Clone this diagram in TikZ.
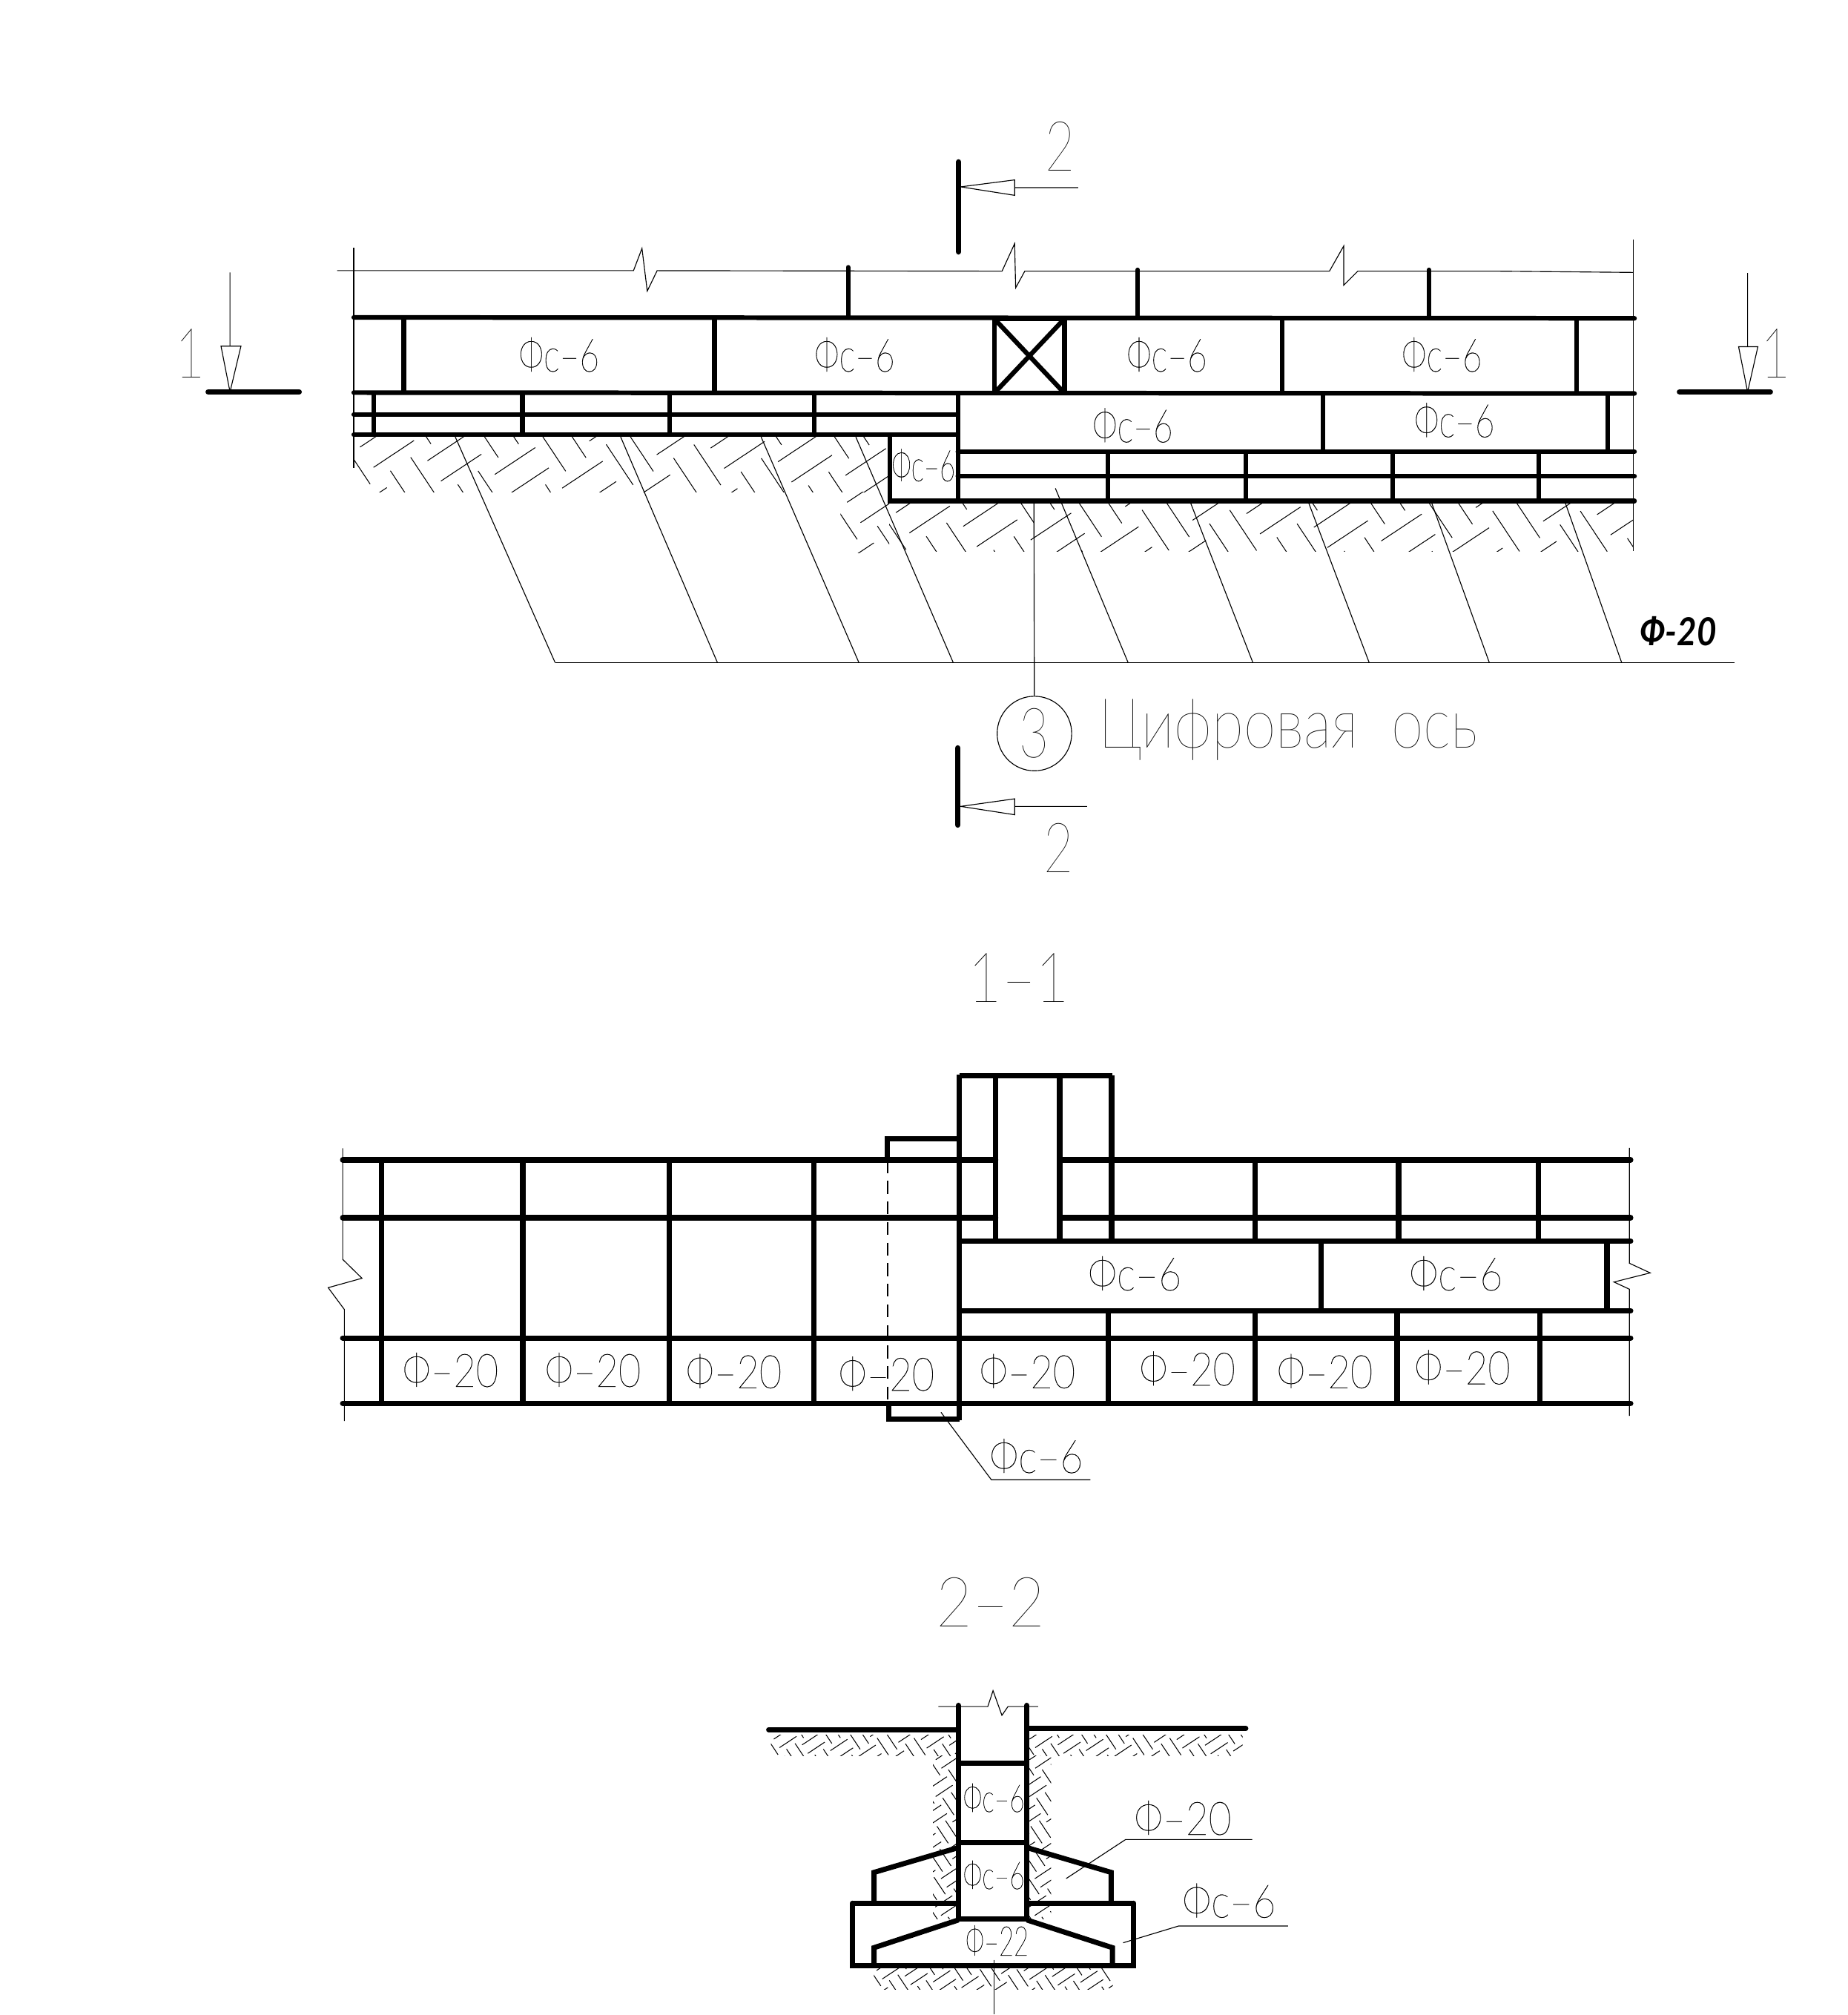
\documentclass[tikz,border=0pt]{standalone}
\usepackage{fontspec}
\usepackage{graphicx}
\setmainfont{Lato Hairline}
\newfontfamily\cadsm{Lato Hairline}[FakeBold=0.4]
\newfontfamily\cadb{Lato}
\newcommand{\fs}[3][.74]{{\ifdim#2pt<20pt\cadsm\fi\fontsize{#2pt}{#2pt}\selectfont\scalebox{#1}[1]{#3}}}
\tikzset{
 thk/.style={line width=1.8pt,line cap=round,line join=miter},
 thn/.style={line width=.33pt},
 lbl/.style={inner sep=0pt,outer sep=0pt,text=black},
 htc/.style={line width=.3pt}
}
% basket-weave earth hatching, clipped to a rectangle: x1 y1 x2 y2 scale
\newcommand{\hatchrect}[5]{%
 \begin{scope}
 \clip (#1,#2) rectangle (#3,#4);
 \pgfmathtruncatemacro{\mA}{-((#4-(#2))/(38*#5))-2}
 \pgfmathtruncatemacro{\mB}{(#3-(#1))*.83/(38*#5)+2}
 \pgfmathtruncatemacro{\nB}{((#3-(#1))*.55+(#4-(#2))*.83)/(38*#5)+2}
 \begin{scope}[shift={(#1,#2)},scale=#5]
 \foreach \m in {\mA,...,\mB}{\foreach \n in {-2,...,\nB}{
  \pgfmathsetmacro{\ox}{(\m*.83+\n*.55)*38}
  \pgfmathsetmacro{\oy}{(-\m*.55+\n*.83)*38}
  \pgfmathtruncatemacro{\odd}{mod(abs(\m+\n),2)}
  \ifnum\odd=0
   \draw[htc] (\ox+5.2,\oy+7.9)--+(31.5,-20.9) (\ox+15.7,\oy+23.7)--+(31.5,-20.9);
  \else
   \draw[htc] (\ox+7.9,\oy-5.2)--+(20.9,31.5) (\ox+23.7,\oy-15.7)--+(20.9,31.5);
  \fi
 }}
 \end{scope}
 \end{scope}}
\begin{document}
\begin{tikzpicture}[x=.5pt,y=-.5pt]
\useasboundingbox (0,0) rectangle (1438,1568);
% ===== plan =====
\hatchrect{275}{340}{692}{383}{1}
\hatchrect{654}{383}{692}{430}{1}
\hatchrect{692}{391}{1271}{429}{1}
\begin{scope}[thn]
\draw (275.3,193) -- (275.3,364);
\draw (1271,186.6) -- (1271,429);
\draw (262.4,210.6) -- (493,210.6) -- (499.6,193.3) -- (503.7,226.5) -- (511.4,210.6) -- (779.8,211) -- (789.6,189.6) -- (790.4,224) -- (797.5,211) -- (1034.6,211) -- (1045.7,191.4) -- (1045.7,222) -- (1056.7,211) -- (1164,211) -- (1271,212);
\draw (432,515.6) -- (1350,515.6);
\draw (354.3,340) -- (432,515.6);
\draw (483,340) -- (558.3,515.6);
\draw (592.3,340) -- (668.4,515.6);
\draw (666,340) -- (741.8,515.6);
\draw (821.3,380) -- (877.9,515.6);
\draw (926.4,391) -- (975,515.6);
\draw (1018.3,391) -- (1065.5,515.6);
\draw (1114,391) -- (1159,515.6);
\draw (1218,391) -- (1262,515.6);
\node[draw,circle,minimum size=29pt,inner sep=0pt] (c3) at (805,570.8) {};
\coordinate (c3t) at (804.6,391);
\draw (c3t) -- (c3);
% section arrows
\draw (179,212) -- (179,269.4) (172,269.4) -- (187.5,269.4) -- (179,305) -- cycle;
\draw (1360,212.4) -- (1360,269.8) (1353,269.8) -- (1368,269.8) -- (1360,305) -- cycle;
\draw (839,146) -- (789.6,146) (789.6,140) -- (789.6,152) -- (747.6,145.4) -- cycle;
\draw (846,627.5) -- (789.6,627.5) (789.6,621.6) -- (789.6,634) -- (747.6,627.5) -- cycle;
\end{scope}
\begin{scope}[thk,line width=2.1pt]
\draw (162,305) -- (232.8,305);
\draw (1307,305) -- (1377.7,305);
\draw (746,126) -- (746,196);
\draw (745.4,582) -- (745.4,642);
\end{scope}
\begin{scope}[thk]
\draw (660,208) -- (660,247) (885.4,210) -- (885.4,247) (1112,210) -- (1112,247);
\draw (275.3,247) -- (1272,247.7);
\draw (275.3,305.5) -- (1272,306.2);
\draw (275.3,322.6) -- (745,322.6);
\draw (275.3,338.4) -- (745,338.4);
\draw[line cap=butt] (314.2,247) -- (314.2,305) (556,248) -- (556,306) (998,248) -- (998,306) (1226.7,248) -- (1226.7,306);
\draw[line cap=butt] (291,305) -- (291,338) (406.5,305) -- (406.5,338) (521,305) -- (521,338) (633.6,305) -- (633.6,338);
\draw[line join=miter,line cap=butt] (773.7,248) rectangle (828.4,306);
\draw[line cap=butt] (773.7,248) -- (828.4,306) (828.4,248) -- (773.7,306);
\draw[line cap=butt] (745.4,306) -- (745.4,390);
\draw (692.3,338.4) -- (692.3,389.8) -- (1272,389.8);
\draw (745.4,351.5) -- (1272,351.5);
\draw (745.4,370.6) -- (1272,370.6);
\draw[line cap=butt] (1029.4,306) -- (1029.4,351.5) (1251,306) -- (1251,351.5);
\draw[line cap=butt] (862,351.5) -- (862,389.8) (969.7,351.5) -- (969.7,389.8) (1083.7,351.5) -- (1083.7,389.8) (1197.6,351.5) -- (1197.6,389.8);
\end{scope}
\node[lbl] (p1) at (435,276) {\fs{18}{Фс–6}};
\node[lbl] (p2) at (665,276) {\fs{18}{Фс–6}};
\node[lbl] (p3) at (908,276) {\fs{18}{Фс–6}};
\node[lbl] (p4) at (1122,276) {\fs{18}{Фс–6}};
\node[lbl] (p5) at (881.4,331) {\fs{18}{Фс–6}};
\node[lbl] (p6) at (1131.8,327) {\fs{18}{Фс–6}};
\node[lbl] (p7) at (718.6,362) {\fs[.62]{17}{Фс–6}};
\node[lbl] (n1a) at (148,275) {\fs{27}{1}};
\node[lbl] (n1b) at (1382,275) {\fs{27}{1}};
\node[lbl] (n2a) at (824.9,114) {\fs{27}{2}};
\node[lbl] (n2b) at (824,660) {\fs{27}{2}};
\node[lbl] (n3) at (805,570.8) {\fs{27}{3}};
\node[lbl,anchor=west] (axis) at (855,568) {\fs[.84]{27}{Цифровая\ \ ось}};
\node[lbl] (f20) at (1306,491.3) {\fs[.88]{15}{\cadb\bfseries\itshape Ф-20}};
% ===== 1-1 =====
\node[lbl] (t11) at (793,761) {\fs[.84]{27}{1–1}};
\begin{scope}[thn]
\draw (266.7,893.5) -- (266.7,980) -- (281.7,994.7) -- (255.4,1002) -- (268,1019) -- (268,1105.8);
\draw (1268,893.3) -- (1268,983) -- (1284.2,990.5) -- (1256,997.6) -- (1268,1003.2) -- (1268,1101.8);
\draw[dashed,dash pattern=on 5pt off 3pt] (690.8,903) -- (690.8,1092);
\coordinate (lA) at (732.3,1099);
\coordinate (lB) at (771.5,1151.5);
\coordinate (lC) at (848.5,1151.5);
\draw (lA) -- (lB) -- (lC);
\end{scope}
\begin{scope}[thk,line width=2.1pt]
\draw (266.7,902.6) -- (774.8,902.6) (824.6,902.6) -- (1269,902.6);
\draw (266.7,947.6) -- (774.8,947.6) (824.6,947.6) -- (1269,947.6);
\draw (266.7,1041.2) -- (1269,1041.2);
\draw (266.7,1092) -- (1269,1092);
\draw (746.5,965.8) -- (1269,965.8);
\draw (746.5,1020) -- (1269,1020);
\draw[line cap=butt] (297,903) -- (297,1092) (406.8,903) -- (406.8,1092) (520.9,903) -- (520.9,1092) (633.5,903) -- (633.5,1092);
\draw[line cap=butt] (746.5,836.9) -- (865.9,836.9);
\draw[line cap=butt] (746.5,836) -- (746.5,1105);
\draw[line cap=butt] (774.8,837) -- (774.8,965.4) (824.6,837) -- (824.6,965.4) (865,837) -- (865,965.4);
\draw[line cap=butt] (690.6,903) -- (690.6,886) -- (746.5,886);
\draw[line cap=butt] (691.8,1092) -- (691.8,1104.3) -- (746.5,1104.3);
\draw[line cap=butt] (976.9,903) -- (976.9,965.4) (1088.4,903) -- (1088.4,965.4) (1197,903) -- (1197,965.4);
\draw[line cap=butt] (862.6,1020.2) -- (862.6,1092) (976.9,1020.2) -- (976.9,1092) (1087.3,1020.2) -- (1087.3,1092) (1198.2,1020.2) -- (1198.2,1092);
\draw[line cap=butt] (1028,965.4) -- (1028,1020.2) (1250.6,965.4) -- (1250.6,1020.2);
\end{scope}
\node[lbl] (a1) at (350.5,1066) {\fs[.84]{18}{Ф–20}};
\node[lbl] (a2) at (461.4,1066) {\fs[.84]{18}{Ф–20}};
\node[lbl] (a3) at (571,1067) {\fs[.84]{18}{Ф–20}};
\node[lbl] (a4) at (689.8,1069) {\fs[.84]{18}{Ф–20}};
\node[lbl] (a5) at (799.5,1067) {\fs[.84]{18}{Ф–20}};
\node[lbl] (a6) at (924,1065) {\fs[.84]{18}{Ф–20}};
\node[lbl] (a7) at (1031,1067) {\fs[.84]{18}{Ф–20}};
\node[lbl] (a8) at (1138,1064) {\fs[.84]{18}{Ф–20}};
\node[lbl] (a9) at (883,991) {\fs[.86]{18}{Фс–6}};
\node[lbl] (a10) at (1133,991) {\fs[.86]{18}{Фс–6}};
\node[lbl] (a11) at (806.4,1133) {\fs[.86]{18}{Фс–6}};
% ===== 2-2 =====
\node[lbl] (t22) at (771,1247) {\fs[.9]{27}{2–2}};
\hatchrect{600}{1350}{746}{1366}{.42}
\hatchrect{799}{1350}{967}{1366}{.42}
\hatchrect{726}{1366}{746}{1493}{.42}
\hatchrect{799}{1366}{818}{1493}{.42}
\hatchrect{680}{1530}{866}{1548}{.42}
\begin{scope}[thn]
\draw (730.2,1328) -- (768.7,1328) -- (772.8,1315.6) -- (779.7,1334.8) -- (784.4,1328) -- (807.8,1328);
\coordinate (b1) at (829.7,1461.8);
\coordinate (b2) at (876,1431.4);
\coordinate (b3) at (974.5,1431.4);
\draw (b1) -- (b2) -- (b3);
\coordinate (b4) at (874,1511.8);
\coordinate (b5) at (917.3,1498.7);
\coordinate (b6) at (1002.4,1498.7);
\draw (b4) -- (b5) -- (b6);
\coordinate (b7) at (773.4,1525);
\coordinate (b8) at (773.4,1567.5);
\draw (b7) -- (b8);
\end{scope}
\begin{scope}[thk,line width=2pt]
\draw (598.2,1346) -- (745.9,1346);
\draw (799.1,1345) -- (969.5,1345);
\draw (745.9,1327) -- (745.9,1493) (799.1,1327) -- (799.1,1493);
\draw[line cap=butt] (745.9,1372.3) -- (799.1,1372.3) (745.9,1433.9) -- (799.1,1433.9) (745.9,1493) -- (799.1,1493);
\draw[line cap=butt] (745.9,1437.7) -- (680.2,1457) -- (680.2,1481);
\draw[line cap=butt] (799.1,1437.7) -- (864.7,1457) -- (864.7,1481);
\draw[line cap=butt] (663.3,1481) -- (745.9,1481) (799.1,1481) -- (882.3,1481);
\draw[line join=miter] (663.3,1481) -- (663.3,1529.5) -- (882.3,1529.5) -- (882.3,1481);
\draw[line cap=butt] (745.9,1494) -- (680.2,1515.6) -- (680.2,1529.5);
\draw[line cap=butt] (799.1,1494) -- (865.7,1515.6) -- (865.7,1529.5);
\end{scope}
\node[lbl] (s1) at (773.4,1399) {\fs[.68]{15}{Фс–6}};
\node[lbl] (s2) at (773.4,1459) {\fs[.68]{15}{Фс–6}};
\node[lbl] (s3) at (775.9,1510) {\fs[.62]{16}{Ф–22}};
\node[lbl] (s4) at (920.4,1414.6) {\fs[.85]{18}{Ф–20}};
\node[lbl] (s5) at (956.4,1479) {\fs[.86]{18}{Фс–6}};
\end{tikzpicture}
\end{document}
